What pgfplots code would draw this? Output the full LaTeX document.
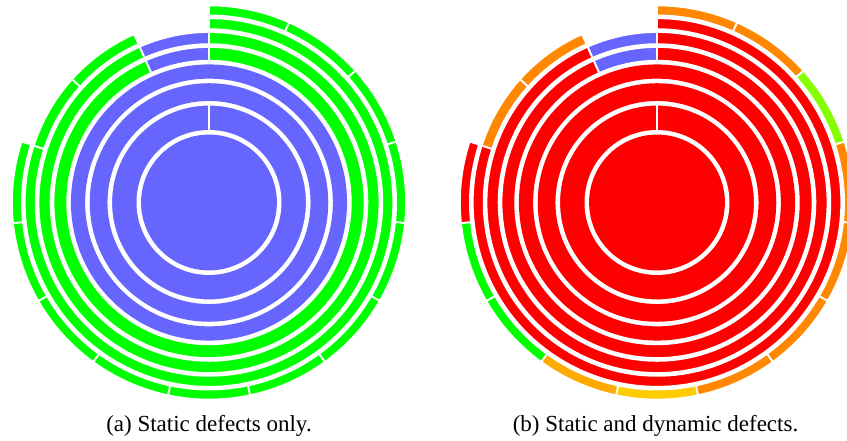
\documentclass[border=0pt]{standalone}
\usepackage{fontspec}
\setmainfont{Liberation Serif}
\usepackage{pgfplots}
\pgfplotsset{compat=1.18}
\definecolor{sblue}{RGB}{102,102,255}
\definecolor{sgreen}{RGB}{0,255,0}
\definecolor{sred}{RGB}{255,0,0}
\definecolor{sorange}{RGB}{255,136,0}
\definecolor{slorange}{RGB}{255,170,0}
\definecolor{sgold}{RGB}{255,204,0}
\definecolor{slime}{RGB}{136,255,0}
% annular sector: #1 centre x, #2 inner r, #3 outer r, #4 start angle, #5 end angle (clockwise from top), #6 colour
\newcommand{\seg}[6]{%
  \filldraw[fill=#6, draw=white, line width=1.8pt]
   (axis cs:#1,238.5) ++({90-(#4)}:#3pt)
   arc[start angle={90-(#4)}, end angle={90-(#5)}, radius=#3pt]
   -- ++({90-(#5)}:{#2pt-#3pt})
   arc[start angle={90-(#5)}, end angle={90-(#4)}, radius=#2pt] -- cycle;}
% full ring without seam
\newcommand{\fullring}[4]{%
  \fill[#4, even odd rule] (axis cs:#1,238.5) circle[radius=#3pt] (axis cs:#1,238.5) circle[radius=#2pt];}
\newcommand{\disc}[3]{\fill[#3] (axis cs:#1,238.5) circle[radius=#2pt];}
\begin{document}
\begin{tikzpicture}
\begin{axis}[
  scale only axis, width=847pt, height=441pt,
  xmin=0, xmax=847, ymin=0, ymax=441,
  hide axis, clip mode=global]
% ---------- (a) static defects only ----------
\disc{209}{67.9}{sblue}
\seg{209}{71.58}{97.85}{0}{360}{sblue}
\fullring{209}{101.55}{119.26}{sblue}
\fullring{209}{123.86}{138.06}{sblue}
% ring 4
\seg{209}{141.76}{155.53}{0}{336}{sgreen}
\seg{209}{141.76}{155.53}{336}{360}{sblue}
% ring 5
\seg{209}{158.33}{170.50}{0}{336}{sgreen}
\seg{209}{158.33}{170.50}{336}{360}{sblue}
% ring 6
\seg{209}{173.30}{184.28}{0}{288}{sgreen}
\seg{209}{173.30}{184.28}{288}{312}{sgreen}
\seg{209}{173.30}{184.28}{312}{336}{sgreen}
% ring 7
\seg{209}{187.08}{197.10}{0}{24}{sgreen}
\seg{209}{187.08}{197.10}{24}{48}{sgreen}
\seg{209}{187.08}{197.10}{48}{72}{sgreen}
\seg{209}{187.08}{197.10}{72}{96}{sgreen}
\seg{209}{187.08}{197.10}{96}{120}{sgreen}
\seg{209}{187.08}{197.10}{120}{144}{sgreen}
\seg{209}{187.08}{197.10}{144}{168}{sgreen}
\seg{209}{187.08}{197.10}{168}{192}{sgreen}
\seg{209}{187.08}{197.10}{192}{216}{sgreen}
\seg{209}{187.08}{197.10}{216}{240}{sgreen}
\seg{209}{187.08}{197.10}{240}{264}{sgreen}
\seg{209}{187.08}{197.10}{264}{288}{sgreen}
% ---------- (b) static and dynamic defects ----------
\disc{657}{67.9}{sred}
\seg{657}{71.58}{97.85}{0}{360}{sred}
\fullring{657}{101.55}{119.26}{sred}
\fullring{657}{123.86}{138.06}{sred}
\seg{657}{141.76}{155.53}{0}{336}{sred}
\seg{657}{141.76}{155.53}{336}{360}{sblue}
\seg{657}{158.33}{170.50}{0}{336}{sred}
\seg{657}{158.33}{170.50}{336}{360}{sblue}
\seg{657}{173.30}{184.28}{0}{288}{sred}
\seg{657}{173.30}{184.28}{288}{312}{sorange}
\seg{657}{173.30}{184.28}{312}{336}{sorange}
\seg{657}{187.08}{197.10}{0}{24}{sorange}
\seg{657}{187.08}{197.10}{24}{48}{sorange}
\seg{657}{187.08}{197.10}{48}{72}{slime}
\seg{657}{187.08}{197.10}{72}{96}{sorange}
\seg{657}{187.08}{197.10}{96}{120}{sorange}
\seg{657}{187.08}{197.10}{120}{144}{sorange}
\seg{657}{187.08}{197.10}{144}{168}{sorange}
\seg{657}{187.08}{197.10}{168}{192}{sgold}
\seg{657}{187.08}{197.10}{192}{216}{slorange}
\seg{657}{187.08}{197.10}{216}{240}{sgreen}
\seg{657}{187.08}{197.10}{240}{264}{sgreen}
\seg{657}{187.08}{197.10}{264}{288}{sred}
% captions
\node[anchor=base, font=\fontsize{23}{27}\selectfont] at (axis cs:209,9.3) {(a) Static defects only.};
\node[anchor=base, font=\fontsize{23}{27}\selectfont] at (axis cs:655.5,9.3) {(b) Static and dynamic defects.};
\end{axis}
\pgfresetboundingbox
\path (current axis.south west) rectangle (current axis.north east);
\end{tikzpicture}
\end{document}
